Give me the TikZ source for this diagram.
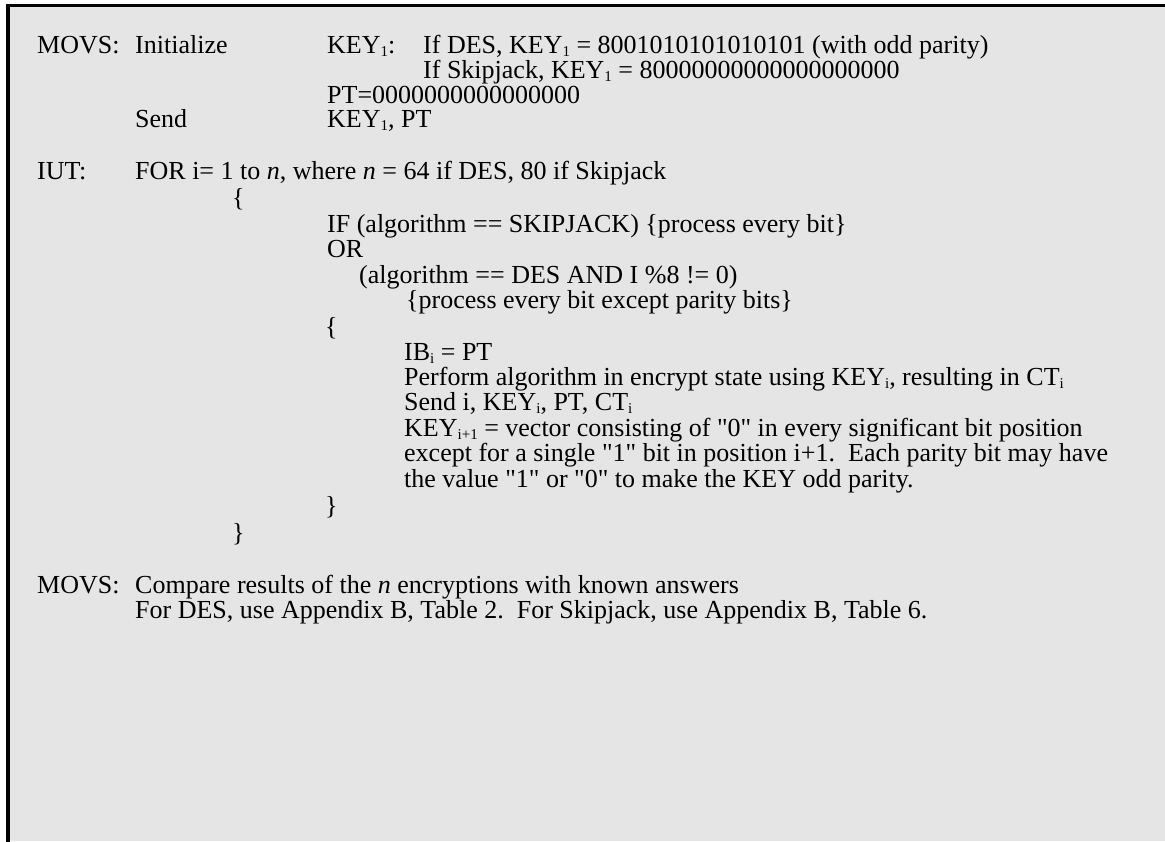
\documentclass[tikz,border=0pt]{standalone}
\usepackage{fontspec}
\setmainfont{Liberation Serif}[Ligatures=TeXOff]
\definecolor{boxgray}{RGB}{229,229,229}
\newcommand\lowidx[1]{\raisebox{-0.15em}[0pt][0pt]{\fontsize{15}{15}\selectfont #1}}
\newcommand\dq{\symbol{34}}
\frenchspacing
\begin{document}
\begin{tikzpicture}[x=1pt,y=-1pt,
  txt/.style={anchor=base west, inner sep=0pt, font=\fontsize{26}{26}\selectfont}]
\useasboundingbox (0,0) rectangle (1165,841);
\fill[white] (0,0) rectangle (1165,841);
\fill[boxgray] (8,5.5) rectangle (1165,841);
\draw[line width=3.6pt] (8,843) -- (8,5.5) -- (1167,5.5);
% MOVS initialize
\node[txt] (m1) at (37,53) {MOVS:};
\node[txt] (init) at (135,53) {Initialize};
\node[txt] (key1) at (327,53) {KEY\lowidx{1}:};
\node[txt] (ifdes) at (423,53) {If DES, KEY\lowidx{1} = 8001010101010101 (with odd parity)};
\node[txt] (ifskip) at (423,78) {If Skipjack, KEY\lowidx{1} = 80000000000000000000};
\node[txt] (pt) at (327,103) {PT=0000000000000000};
\node[txt] (send) at (135,127) {Send};
\node[txt] (sendval) at (327,127) {KEY\lowidx{1}, PT};
% IUT
\node[txt] (iut) at (37,179) {IUT:};
\node[txt] (for) at (135,179) {FOR i= 1 to \textit{n}, where \textit{n} = 64 if DES, 80 if Skipjack};
\node[txt] (ob1) at (232,206) {\{};
\node[txt] (if) at (327,232) {IF (algorithm == SKIPJACK) \{process every bit\}};
\node[txt] (or) at (327,257) {OR};
\node[txt] (alg) at (359,283) {(algorithm == DES AND I \%8 != 0)};
\node[txt] (proc) at (406,308) {\{process every bit except parity bits\}};
\node[txt] (ob2) at (325,335) {\{};
\node[txt] (ib) at (404,360) {IB\lowidx{i} = PT};
\node[txt] (perf) at (404,385) {Perform algorithm in encrypt state using KEY\lowidx{i}, resulting in CT\lowidx{i}};
\node[txt] (sendi) at (404,410) {Send i, KEY\lowidx{i}, PT, CT\lowidx{i}};
\node[txt] (keyn) at (404,436) {KEY\lowidx{i+1} = vector consisting of \dq0\dq{} in every significant bit position};
\node[txt] (exc) at (404,461) {except for a single \dq1\dq{} bit in position i+1.\ \ Each parity bit may have};
\node[txt] (val) at (404,487) {the value \dq1\dq{} or \dq0\dq{} to make the KEY odd parity.};
\node[txt] (cb2) at (325,514) {\}};
\node[txt] (cb1) at (232,541) {\}};
% MOVS compare
\node[txt] (m2) at (37,593) {MOVS:};
\node[txt] (cmp) at (135,593) {Compare results of the \textit{n} encryptions with known answers};
\node[txt] (fordes) at (135,618) {For DES, use Appendix B, Table 2.\ \ For Skipjack, use Appendix B, Table 6.};
\end{tikzpicture}
\end{document}
